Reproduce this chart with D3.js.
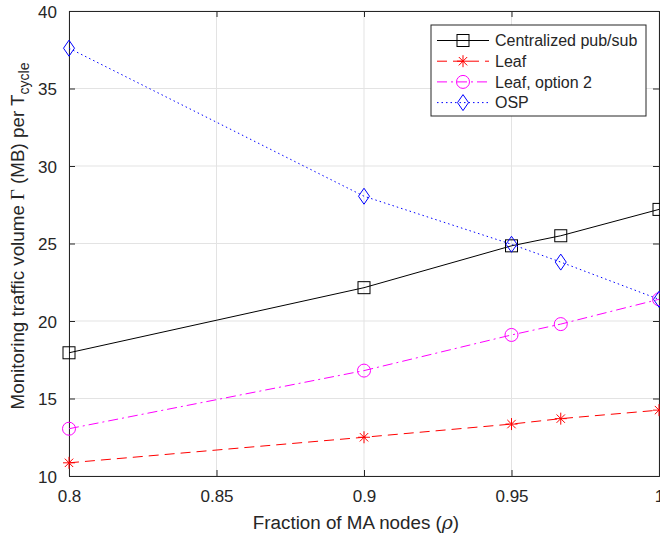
<!DOCTYPE html>
<html lang="en">
<head>
<meta charset="utf-8">
<title>Monitoring traffic volume</title>
<script src="https://cdn.jsdelivr.net/npm/d3@7"></script>
<style>
  body { margin: 0; background: #fff; }
  text { font-family: "Liberation Sans", Arial, sans-serif; fill: #262626; }
</style>
</head>
<body>
<script>
// data
var rho = [0.8, 0.9, 0.95, 0.9667, 1.0];
var centralized = [17.95, 22.15, 24.85, 25.5, 27.2];
var leaf = [10.85, 12.5, 13.35, 13.7, 14.25];
var leafOpt2 = [13.05, 16.8, 19.1, 19.8, 21.4];
var osp = [37.6, 28.05, 24.95, 23.8, 21.4];
var xTicks = [0.8, 0.85, 0.9, 0.95, 1];
var yTicks = [10, 15, 20, 25, 30, 35, 40];

var w = 660, h = 540;
var margin = {left: 69, right: 1, top: 11, bottom: 64};
var pw = w - margin.left - margin.right;
var ph = h - margin.top - margin.bottom;

var svg = d3.select("body").append("svg")
  .attr("width", w).attr("height", h);

var x = d3.scaleLinear().domain([0.8, 1]).range([0, pw]);
var y = d3.scaleLinear().domain([10, 40]).range([ph, 0]);

var g = svg.append("g").attr("transform", "translate(" + margin.left + "," + margin.top + ")");

// grid
g.selectAll(".gx").data(xTicks).enter().append("line")
  .attr("x1", d => x(d)).attr("x2", d => x(d))
  .attr("y1", 0).attr("y2", ph)
  .attr("stroke", "#e3e3e3").attr("stroke-width", 1);
g.selectAll(".gy").data(yTicks).enter().append("line")
  .attr("y1", d => y(d)).attr("y2", d => y(d))
  .attr("x1", 0).attr("x2", pw)
  .attr("stroke", "#e3e3e3").attr("stroke-width", 1);

// axes (ticks inside)
var fmt = d => String(d);
var xAxis = g.append("g").attr("transform", "translate(0," + ph + ")")
  .call(d3.axisBottom(x).tickValues(xTicks).tickSize(-6).tickPadding(14).tickFormat(fmt));
var xTop = g.append("g")
  .call(d3.axisTop(x).tickValues(xTicks).tickSize(-6).tickFormat(""));
var yAxis = g.append("g")
  .call(d3.axisLeft(y).tickValues(yTicks).tickSize(-6).tickPadding(12).tickFormat(fmt));
var yRight = g.append("g").attr("transform", "translate(" + pw + ",0)")
  .call(d3.axisRight(y).tickValues(yTicks).tickSize(-6).tickFormat(""));

[xAxis, xTop, yAxis, yRight].forEach(function(a) {
  a.select(".domain").attr("stroke", "#262626").attr("stroke-width", 1);
  a.selectAll(".tick line").attr("stroke", "#262626");
  a.selectAll("text").attr("font-size", 17).attr("fill", "#262626")
    .attr("font-family", "'Liberation Sans', Arial, sans-serif");
});
yAxis.selectAll("text").attr("dy", "0.36em");

// series
var series = [
  {name: "Centralized pub/sub", vals: centralized, color: "#000000", dash: null, marker: "square"},
  {name: "Leaf", vals: leaf, color: "#ff0000", dash: "10,6", marker: "star"},
  {name: "Leaf, option 2", vals: leafOpt2, color: "#ff00ff", dash: "10,4,2,4", marker: "circle"},
  {name: "OSP", vals: osp, color: "#0000ff", dash: "1.5,3", marker: "diamond"}
];

var line = d3.line().x(d => x(d[0])).y(d => y(d[1]));

function drawMarker(sel, type, color) {
  if (type === "square") {
    sel.append("rect").attr("x", -6).attr("y", -6).attr("width", 12).attr("height", 12)
      .attr("fill", "none").attr("stroke", color).attr("stroke-width", 1);
  } else if (type === "circle") {
    sel.append("circle").attr("r", 6.5).attr("fill", "none").attr("stroke", color).attr("stroke-width", 1);
  } else if (type === "diamond") {
    sel.append("path").attr("d", "M0,-8L5.5,0L0,8L-5.5,0Z")
      .attr("fill", "none").attr("stroke", color).attr("stroke-width", 1);
  } else if (type === "star") {
    sel.append("path").attr("d", "M0,-6V6M-6,0H6M-4.2,-4.2L4.2,4.2M-4.2,4.2L4.2,-4.2")
      .attr("fill", "none").attr("stroke", color).attr("stroke-width", 1);
  }
}

var plot = g.append("g");
series.forEach(function(s) {
  var pts = rho.map((r, i) => [r, s.vals[i]]);
  plot.append("path").datum(pts)
    .attr("d", line).attr("fill", "none")
    .attr("stroke", s.color).attr("stroke-width", 1)
    .attr("stroke-dasharray", s.dash);
  plot.selectAll(null).data(pts).enter().append("g")
    .attr("transform", d => "translate(" + x(d[0]) + "," + y(d[1]) + ")")
    .each(function() { drawMarker(d3.select(this), s.marker, s.color); });
});

// legend
var lg = svg.append("g").attr("transform", "translate(431,25)");
lg.append("rect").attr("width", 215).attr("height", 91)
  .attr("fill", "#fff").attr("stroke", "#262626").attr("stroke-width", 1);
series.forEach(function(s, i) {
  var row = lg.append("g").attr("transform", "translate(0," + (15.5 + i * 20.7) + ")");
  row.append("line").attr("x1", 6).attr("x2", 58).attr("y1", 0).attr("y2", 0)
    .attr("stroke", s.color).attr("stroke-width", 1).attr("stroke-dasharray", s.dash);
  var m = row.append("g").attr("transform", "translate(32,0)");
  drawMarker(m, s.marker, s.color);
  row.append("text").attr("x", 64).attr("dy", "0.36em").attr("font-size", 16).text(s.name);
});

// axis labels
svg.append("text")
  .attr("x", margin.left + pw / 2 - 8).attr("y", 529)
  .attr("text-anchor", "middle").attr("font-size", 18.8)
  .html("Fraction of MA nodes (<tspan font-family='DejaVu Serif, serif' font-style='italic'>ρ</tspan>)");

svg.append("text")
  .attr("transform", "translate(24,236) rotate(-90)")
  .attr("text-anchor", "middle").attr("font-size", 18.8)
  .html("Monitoring traffic volume <tspan font-family='Liberation Serif, serif'>Γ</tspan> (MB) per T<tspan font-size='14' dy='5'>cycle</tspan>");
</script>
</body>
</html>
